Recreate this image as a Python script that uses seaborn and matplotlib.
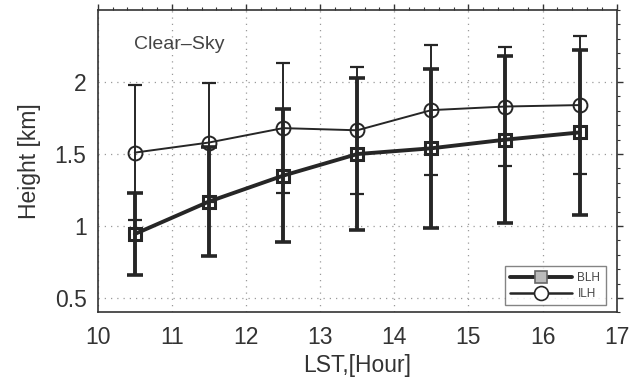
import numpy as np
import pandas as pd
import seaborn as sns
import matplotlib
matplotlib.use("Agg")
import matplotlib.pyplot as plt
from matplotlib.lines import Line2D
from matplotlib.ticker import MultipleLocator

# Local solar time (hour bins) and layer heights in km
lst_hours = [10.5, 11.5, 12.5, 13.5, 14.5, 15.5, 16.5]
blh_mean = [0.945, 1.17, 1.35, 1.50, 1.54, 1.60, 1.65]
blh_std = [0.285, 0.38, 0.46, 0.525, 0.55, 0.58, 0.575]
ilh_mean = [1.51, 1.58, 1.68, 1.665, 1.805, 1.83, 1.84]
ilh_std = [0.47, 0.41, 0.45, 0.44, 0.45, 0.415, 0.48]
series_names = ["BLH", "ILH"]
x_ticks = [10, 11, 12, 13, 14, 15, 16, 17]
y_ticks = [0.5, 1.0, 1.5, 2.0]
y_tick_labels = ["0.5", "1", "1.5", "2"]

sns.set_style("white")
plt.rcParams["font.family"] = ["Liberation Sans", "DejaVu Sans"]

df = pd.DataFrame({
    "LST": lst_hours * 2,
    "Height": blh_mean + ilh_mean,
    "Layer": [series_names[0]] * len(lst_hours) + [series_names[1]] * len(lst_hours),
})

ink = "#262626"
fig = plt.figure(figsize=(6.4, 3.78), dpi=100)
ax = fig.add_axes([0.1527, 0.1733, 0.8109, 0.8002])

# grid first so everything sits above it
ax.set_axisbelow(True)
ax.grid(True, which="major", color="#9a9a9a", linestyle=(0, (1, 4)), linewidth=0.9)

# error bars
ax.errorbar(lst_hours, ilh_mean, yerr=ilh_std, fmt="none", ecolor=ink,
            elinewidth=1.4, capsize=5, capthick=1.6, zorder=2)
ax.errorbar(lst_hours, blh_mean, yerr=blh_std, fmt="none", ecolor=ink,
            elinewidth=2.8, capsize=5.5, capthick=2.6, zorder=3)

# mean curves
sns.lineplot(data=df[df["Layer"] == "ILH"], x="LST", y="Height", ax=ax,
             color=ink, linewidth=1.4, marker="o", markersize=10,
             markerfacecolor="none", markeredgecolor=ink, markeredgewidth=1.4,
             zorder=4, legend=False)
sns.lineplot(data=df[df["Layer"] == "BLH"], x="LST", y="Height", ax=ax,
             color=ink, linewidth=2.8, marker="s", markersize=8.5,
             markerfacecolor="none", markeredgecolor=ink, markeredgewidth=2.2,
             zorder=5, legend=False)

ax.set_xlim(10, 17)
ax.set_ylim(0.4, 2.5)
ax.set_xticks(x_ticks)
ax.set_yticks(y_ticks)
ax.set_yticklabels(y_tick_labels)
ax.xaxis.set_minor_locator(MultipleLocator(0.2))
ax.yaxis.set_minor_locator(MultipleLocator(0.1))

ax.tick_params(which="both", direction="out", top=True, right=True,
               colors="#333333", labelcolor="#333333")
ax.tick_params(which="major", length=4, width=1.0, labelsize=16.5, pad=4)
ax.tick_params(which="minor", length=2, width=0.8)
ax.tick_params(axis="x", pad=6)
ax.tick_params(labeltop=False, labelright=False)

for s in ax.spines.values():
    s.set_visible(True)
    s.set_color("#333333")
    s.set_linewidth(1.2)

ax.set_xlabel("LST,[Hour]", fontsize=16.5, color="#333333", labelpad=3)
ax.set_ylabel("Height [km]", fontsize=16.5, color="#333333", labelpad=10)

ax.text(0.069, 0.885, "Clear\u2013Sky", transform=ax.transAxes, fontsize=14,
        color="#444444", ha="left", va="center")

handles = [
    Line2D([], [], color=ink, linewidth=2.8, marker="s", markersize=8,
           markerfacecolor="#bbbbbb", markeredgecolor="#666666", markeredgewidth=1.2),
    Line2D([], [], color=ink, linewidth=1.8, marker="o", markersize=10,
           markerfacecolor="white", markeredgecolor=ink, markeredgewidth=1.2),
]
leg = ax.legend(handles, series_names, loc="lower right", fontsize=8.5,
                frameon=True, fancybox=False, edgecolor="#666666",
                handlelength=5.2, handletextpad=0.5, borderpad=0.45,
                labelspacing=0.35, bbox_to_anchor=(0.99, 0.005))
leg.get_frame().set_linewidth(1.0)
for t in leg.get_texts():
    t.set_color("#444444")

fig.savefig("out.png", dpi=100, facecolor="white")
